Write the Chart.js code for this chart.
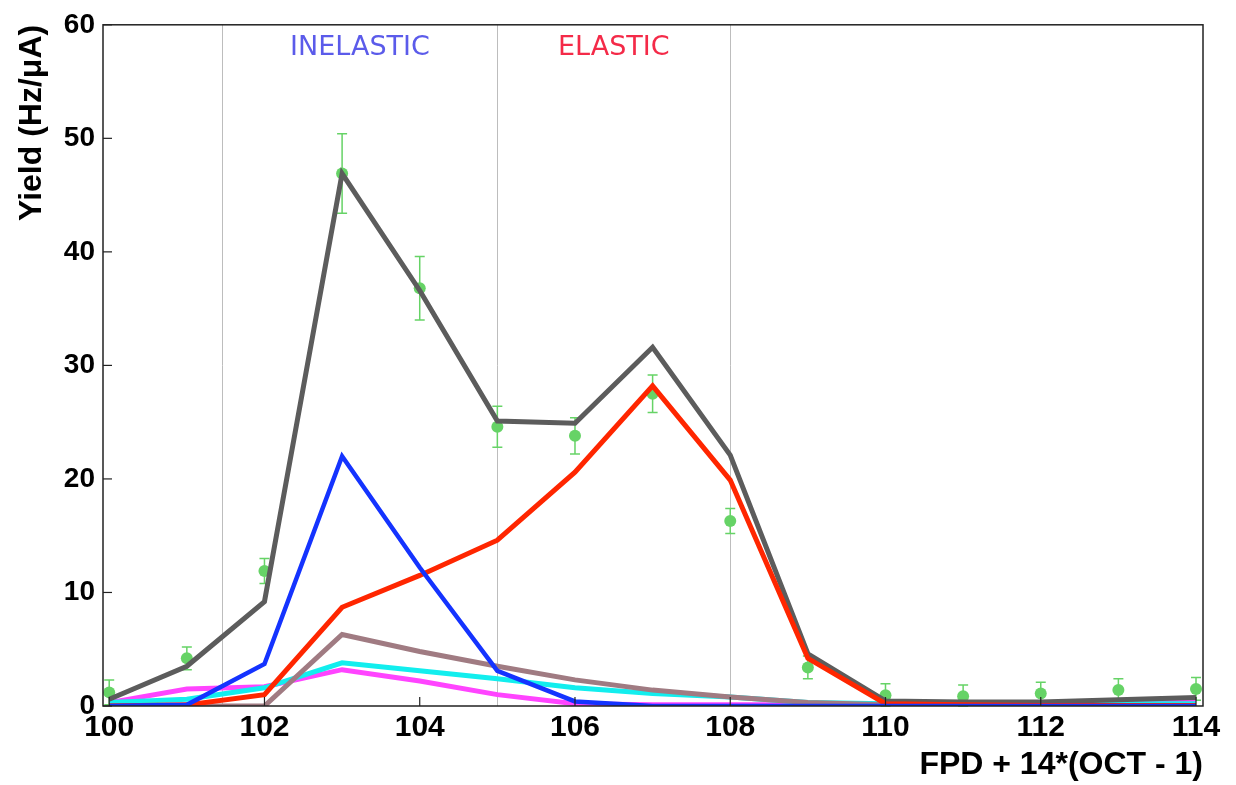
<!DOCTYPE html>
<html>
<head>
<meta charset="utf-8">
<title>Yield vs FPD</title>
<script src="https://cdn.jsdelivr.net/npm/chart.js@4.4.1/dist/chart.umd.min.js"></script>
<style>
  html,body{margin:0;padding:0;background:#fff;}
  #wrap{width:1236px;height:785px;position:relative;}
</style>
</head>
<body>
<div id="wrap"><canvas id="yield-chart"></canvas></div>
<script>
/* Yield per focal-plane detector bin: measured points + simulated components */

var FPD = [100,101,102,103,104,105,106,107,108,109,110,111,112,113,114];

// measured yield (Hz/uA) and its error
var MEAS     = [1.2, 4.2, 11.9, 46.9, 36.8, 24.6, 23.8, 27.5, 16.3, 3.4, 0.95, 0.85, 1.1, 1.4, 1.5];
var MEAS_ERR = [1.1, 1.0, 1.1, 3.5, 2.8, 1.8, 1.6, 1.65, 1.1, 1.0, 1.0, 1.0, 1.0, 1.0, 1.0];

// simulated contributions
var TOTAL     = [0.6, 3.5, 9.2, 46.9, 36.6, 25.1, 24.9, 31.6, 22.1, 4.6, 0.45, 0.35, 0.35, 0.55, 0.75];
var ELASTIC   = [0.0, 0.1, 1.0, 8.7, 11.5, 14.6, 20.6, 28.2, 19.9, 4.2, 0.2, 0.1, 0.05, 0.05, 0.05];
var INELASTIC = [0.0, 0.1, 3.7, 22.0, 12.2, 3.1, 0.4, 0.0, 0.0, 0.0, 0.0, 0.0, 0.0, 0.0, 0.0];
var BG_BROWN  = [0.0, 0.0, 0.0, 6.3, 4.8, 3.5, 2.3, 1.4, 0.8, 0.3, 0.1, 0.05, 0.05, 0.05, 0.05];
var BG_CYAN   = [0.3, 0.6, 1.6, 3.8, 3.1, 2.4, 1.6, 1.1, 0.8, 0.3, 0.2, 0.15, 0.15, 0.2, 0.2];
var BG_MAG    = [0.3, 1.5, 1.7, 3.2, 2.2, 1.0, 0.2, 0.1, 0.1, 0.1, 0.1, 0.15, 0.2, 0.3, 0.3];

var X_TICKS = [100,102,104,106,108,110,112,114];
var Y_TICKS = [0,10,20,30,40,50,60];

// region dividers and region labels
var DIVIDERS = [101.45, 105, 108];
var REGIONS  = [{text:'INELASTIC', x:103.23, color:'#5b5bea'},
                {text:'ELASTIC',   x:106.5,  color:'#f42a48'}];

function pts(vals){ return FPD.map(function(x,i){ return {x:x,y:vals[i]}; }); }

function lineSet(label,vals,color,w){
  return {type:'line',label:label,data:pts(vals),borderColor:color,backgroundColor:color,
    borderWidth:w,pointRadius:0,tension:0,fill:false,borderJoinStyle:'miter',borderCapStyle:'butt'};
}

var FONT = 'Liberation Sans, Arial, Helvetica, sans-serif';

// ROOT-ish frame: inward ticks, dividers, error bars, region labels
var framePlugin = {
  id:'frame',
  beforeDatasetsDraw:function(chart){
    var c=chart.ctx, a=chart.chartArea, sx=chart.scales.x, sy=chart.scales.y;
    c.save();
    c.strokeStyle='#bdbdbd'; c.lineWidth=1;
    DIVIDERS.forEach(function(v){
      var px=Math.round(sx.getPixelForValue(v))+0.5;
      c.beginPath(); c.moveTo(px,a.top); c.lineTo(px,a.bottom); c.stroke();
    });
    // error bars under the markers
    c.strokeStyle='#66d366'; c.lineWidth=1.5;
    FPD.forEach(function(x,i){
      var px=sx.getPixelForValue(x);
      var lo=sy.getPixelForValue(Math.max(MEAS[i]-MEAS_ERR[i],0));
      var hi=sy.getPixelForValue(MEAS[i]+MEAS_ERR[i]);
      c.beginPath();
      c.moveTo(px,lo); c.lineTo(px,hi);
      c.moveTo(px-5,hi); c.lineTo(px+5,hi);
      c.moveTo(px-5,lo); c.lineTo(px+5,lo);
      c.stroke();
    });
    // region labels
    c.font='27px "DejaVu Sans", sans-serif';
    c.textAlign='center'; c.textBaseline='alphabetic';
    REGIONS.forEach(function(r){
      c.fillStyle=r.color;
      c.fillText(r.text, sx.getPixelForValue(r.x), a.top+30);
    });
    c.restore();
  },
  afterDraw:function(chart){
    var c=chart.ctx, a=chart.chartArea, sx=chart.scales.x, sy=chart.scales.y;
    c.save();
    c.strokeStyle='#222'; c.lineWidth=1.5;
    c.strokeRect(a.left,a.top,a.right-a.left,a.bottom-a.top);
    c.lineWidth=1.2;
    X_TICKS.forEach(function(v){
      var px=sx.getPixelForValue(v);
      c.beginPath(); c.moveTo(px,a.bottom); c.lineTo(px,a.bottom-9); c.stroke();
    });
    Y_TICKS.forEach(function(v){
      var py=sy.getPixelForValue(v);
      c.beginPath(); c.moveTo(a.left,py); c.lineTo(a.left+9,py); c.stroke();
    });
    c.restore();
  }
};

var ctx=document.getElementById('yield-chart');
var chart=new Chart(ctx,{
  data:{
    datasets:[
      lineSet('inelastic',INELASTIC,'#1433ff',4.5),
      lineSet('elastic',ELASTIC,'#ff2600',5),
      lineSet('total',TOTAL,'#5c5c5c',5),
      lineSet('bg1',BG_BROWN,'#a07b82',5),
      lineSet('bg2',BG_CYAN,'#12eeee',5),
      lineSet('bg3',BG_MAG,'#ff44ff',5),
      {type:'scatter',label:'data',data:pts(MEAS),backgroundColor:'#66d366',borderColor:'#66d366',
        pointRadius:6,pointHoverRadius:6,borderWidth:0}
    ]
  },
  options:{
    responsive:true,maintainAspectRatio:false,animation:false,
    layout:{padding:{top:16,right:33,left:0,bottom:0}},
    plugins:{legend:{display:false},tooltip:{enabled:false}},
    scales:{
      x:{
        type:'linear',min:99.92,max:114.09,
        afterBuildTicks:function(s){ s.ticks=X_TICKS.map(function(v){return {value:v};}); },
        afterFit:function(s){ s.height=79; },
        grid:{display:false,drawTicks:false},
        border:{display:false},
        ticks:{padding:4,color:'#000',maxRotation:0,autoSkip:false,font:{family:FONT,size:30,weight:'bold'}},
        title:{display:true,text:'FPD + 14*(OCT - 1)',align:'end',color:'#000',
          padding:{top:0,bottom:1},font:{family:FONT,size:32,weight:'bold'}}
      },
      y:{
        min:0,max:60,
        afterBuildTicks:function(s){ s.ticks=Y_TICKS.map(function(v){return {value:v};}); },
        afterFit:function(s){ s.width=103; },
        grid:{display:false,drawTicks:false},
        border:{display:false},
        ticks:{padding:8,color:'#000',font:{family:FONT,size:28,weight:'bold'}},
        title:{display:true,text:'Yield (Hz/\u03bcA)',align:'end',color:'#000',
          padding:{top:13,bottom:0},font:{family:FONT,size:32,weight:'bold'}}
      }
    }
  },
  plugins:[framePlugin]
});
</script>
</body>
</html>
